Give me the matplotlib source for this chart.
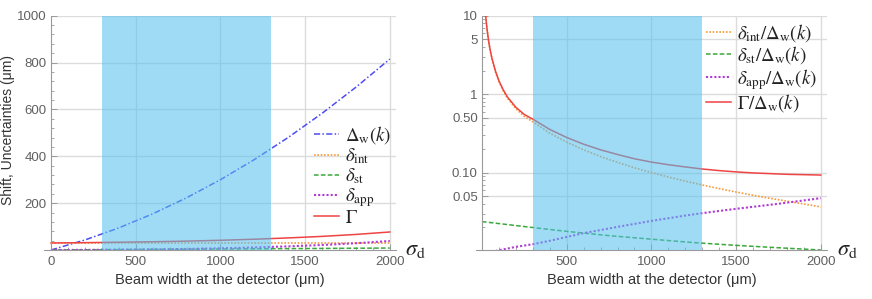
import numpy as np
import matplotlib
matplotlib.use("Agg")
import matplotlib.pyplot as plt
from matplotlib.ticker import FixedLocator, NullFormatter, LogLocator

plt.rcParams['mathtext.fontset'] = 'stix'
plt.rcParams['font.family'] = ['Liberation Sans', 'DejaVu Sans']

# ---------------- data: left panel (absolute values, um) ----------------
x_left = [0, 200, 400, 600, 800, 1000, 1200, 1400, 1600, 1800, 2000]
delta_w = [0, 42.8, 94.2, 154.2, 222.8, 300.0, 385.8, 480.2, 583.2, 694.8, 815.0]
delta_int = [30, 30, 30, 30, 30, 30, 30, 30, 30, 30, 30]
delta_st = [0, 0.9, 1.8, 2.6, 3.4, 4.2, 5.1, 5.9, 6.7, 7.6, 8.4]
delta_app = [0, 0.5, 1.3, 2.6, 4.5, 7.3, 10.9, 15.6, 21.4, 28.8, 38.5]
gamma = [30, 31.4, 33.1, 35.2, 37.9, 41.5, 46.0, 51.5, 58.1, 66.4, 76.9]

# ---------------- data: right panel (ratios to Delta_w) ----------------
x_ratio = [20, 25, 30, 40, 50, 60, 80, 100, 125, 150, 200, 250, 300, 400, 500,
           600, 700, 800, 900, 1000, 1100, 1200, 1300, 1400, 1500, 1600, 1700,
           1800, 1900, 2000]
gamma_ratio = [11.2, 8.4, 6.7, 4.6, 3.5, 2.8, 1.95, 1.48, 1.14, 0.92, 0.68, 0.55, 0.48,
               0.355, 0.28, 0.23, 0.195, 0.17, 0.15, 0.136, 0.126, 0.118, 0.111,
               0.106, 0.102, 0.099, 0.097, 0.095, 0.094, 0.093]
int_ratio = [11.0, 8.25, 6.55, 4.5, 3.43, 2.74, 1.9, 1.44, 1.1, 0.89, 0.65, 0.52, 0.445,
             0.318, 0.244, 0.195, 0.16, 0.135, 0.115, 0.100, 0.0878, 0.0778, 0.0695,
             0.0625, 0.0565, 0.0514, 0.047, 0.0432, 0.0398, 0.0365]
x_st = [0, 250, 500, 750, 1000, 1250, 1500, 1750, 2000]
st_ratio = [0.0237, 0.0205, 0.0178, 0.0157, 0.01415, 0.0128, 0.0118, 0.0110, 0.0103]
x_app = [80, 200, 300, 400, 600, 800, 1000, 1200, 1300, 1500, 1750, 2000]
app_ratio = [0.0100, 0.0113, 0.0122, 0.0135, 0.0169, 0.0203, 0.0242, 0.0283, 0.0304,
             0.0345, 0.0400, 0.0472]

band = (300, 1300)

# ---------------- styles ----------------
c_blue = '#4d4df2'
c_orange = '#f59a3c'
c_green = '#3aa83a'
c_purple = '#b03ad6'
c_red = '#ee4444'
band_color = '#52bfef'
axis_col = '#9a9a9a'
grid_col = '#dcdcdc'
tick_lab_col = '#606060'
label_col = '#333333'

W, H = 872, 299
fig = plt.figure(figsize=(W / 100, H / 100), dpi=100)

ppu = 84.7 / 500.0  # pixels per x unit
def axes_rect(x0px, xmin, xmax, top_px, bot_px):
    left = x0px + xmin * ppu
    right = x0px + xmax * ppu
    return [left / W, 1 - bot_px / H, (right - left) / W, (bot_px - top_px) / H]

def style_axes(ax):
    for s in ['top', 'right']:
        ax.spines[s].set_visible(False)
    for s in ['left', 'bottom']:
        ax.spines[s].set_color(axis_col)
        ax.spines[s].set_linewidth(0.8)
    ax.spines['left'].set_position(('data', 0))
    ax.tick_params(which='both', direction='in', color=axis_col, labelcolor=tick_lab_col,
                   labelsize=9.5)
    ax.tick_params(which='major', length=4, width=0.7)
    ax.tick_params(which='minor', length=2, width=0.6)
    ax.tick_params(axis='x', pad=4)
    ax.tick_params(axis='y', pad=3)

leg_kw = dict(frameon=False, fontsize=13.5, handlelength=1.35, handletextpad=0.3,
              labelspacing=0.02, borderpad=0, borderaxespad=0)

# ---------------- left panel ----------------
rect1 = axes_rect(51, -40, 2035, 15.7, 250)
ax1 = fig.add_axes(rect1)
ax1.set_xlim(-40, 2035)
ax1.set_ylim(0, 1000)
style_axes(ax1)
for yv in [200, 400, 600, 800, 1000]:
    ax1.hlines(yv, 0, 2035, color=grid_col, lw=1.0, zorder=0.5)
for xv in [500, 1000, 1500, 2000]:
    ax1.vlines(xv, 0, 1000, color=grid_col, lw=1.0, zorder=0.5)
ax1.plot(x_left, delta_w, color=c_blue, lw=1.1, ls=(0, (4, 1.5, 1, 1.5)), label=r'$\Delta_{\rm w}(k)$', zorder=2)
ax1.plot(x_left, delta_int, color=c_orange, lw=1.2, ls=(0, (1, 1)), label=r'$\delta_{\rm int}$', zorder=2)
ax1.plot(x_left, delta_st, color=c_green, lw=1.1, ls=(0, (3, 1.5)), label=r'$\delta_{\rm st}$', zorder=2)
ax1.plot(x_left, delta_app, color=c_purple, lw=1.5, ls=(0, (1, 1)), label=r'$\delta_{\rm app}$', zorder=2)
ax1.plot(x_left, gamma, color=c_red, lw=1.1, label=r'$\Gamma$', zorder=2.1)
ax1.axvspan(band[0], band[1], color=band_color, alpha=0.55, lw=0, zorder=3)
ax1.xaxis.set_major_locator(FixedLocator([0, 500, 1000, 1500, 2000]))
ax1.xaxis.set_minor_locator(FixedLocator([v for v in range(100, 2001, 100) if v % 500]))
ax1.yaxis.set_major_locator(FixedLocator([200, 400, 600, 800, 1000]))
ax1.yaxis.set_minor_locator(FixedLocator([v for v in range(40, 1000, 40) if v % 200]))
ax1.set_xlabel('Beam width at the detector (μm)', fontsize=10.5, color=label_col, labelpad=4)
fig.text(8 / W, 1 - 130 / H, 'Shift, Uncertainties (μm)', rotation=90, fontsize=10,
         color=label_col, ha='center', va='center')
fig.text(405 / W, 1 - 249 / H, r'$\sigma_{\rm d}$', fontsize=16, color='#222222', va='center', ha='left')
leg1 = ax1.legend(loc='upper left', bbox_to_anchor=(314 / W, 1 - 124 / H), bbox_transform=fig.transFigure,
                  **leg_kw)
for t in leg1.get_texts():
    t.set_color('#222222')

# ---------------- right panel ----------------
ax2 = fig.add_axes(axes_rect(482, -35, 2035, 15.7, 250))
ax2.set_xlim(-35, 2035)
ax2.set_yscale('log')
ax2.set_ylim(0.0103, 10)
style_axes(ax2)
for yv in [10, 5, 1, 0.5, 0.1, 0.05]:
    ax2.hlines(yv, 0, 2035, color=grid_col, lw=1.0, zorder=0.5)
for xv in [500, 1000, 1500, 2000]:
    ax2.vlines(xv, 0.0103, 10, color=grid_col, lw=1.0, zorder=0.5)
ax2.plot(x_ratio, int_ratio, color=c_orange, lw=1.2, ls=(0, (1, 1)), label=r'$\delta_{\rm int}/\Delta_{\rm w}(k)$', zorder=2)
ax2.plot(x_st, st_ratio, color=c_green, lw=1.1, ls=(0, (3, 1.5)), label=r'$\delta_{\rm st}/\Delta_{\rm w}(k)$', zorder=2)
ax2.plot(x_app, app_ratio, color=c_purple, lw=1.5, ls=(0, (1, 1)), label=r'$\delta_{\rm app}/\Delta_{\rm w}(k)$', zorder=2)
ax2.plot(x_ratio, gamma_ratio, color=c_red, lw=1.1, label=r'$\Gamma/\Delta_{\rm w}(k)$', zorder=2.1)
ax2.axvspan(band[0], band[1], color=band_color, alpha=0.55, lw=0, zorder=3)
ax2.xaxis.set_major_locator(FixedLocator([500, 1000, 1500, 2000]))
ax2.xaxis.set_minor_locator(FixedLocator([v for v in range(100, 2001, 100) if v % 500]))
ax2.yaxis.set_major_locator(FixedLocator([0.05, 0.1, 0.5, 1, 5, 10]))
ax2.set_yticklabels(['0.05', '0.10', '0.50', '1', '5', '10'])
ax2.yaxis.set_minor_locator(LogLocator(base=10, subs=np.arange(2, 10), numticks=20))
ax2.yaxis.set_minor_formatter(NullFormatter())
ax2.set_xlabel('Beam width at the detector (μm)', fontsize=10.5, color=label_col, labelpad=4)
fig.text(837 / W, 1 - 249 / H, r'$\sigma_{\rm d}$', fontsize=16, color='#222222', va='center', ha='left')
leg2 = ax2.legend(loc='upper left', bbox_to_anchor=(706 / W, 1 - 22 / H), bbox_transform=fig.transFigure,
                  **leg_kw)
for t in leg2.get_texts():
    t.set_color('#222222')

fig.savefig('out.png', dpi=100)
